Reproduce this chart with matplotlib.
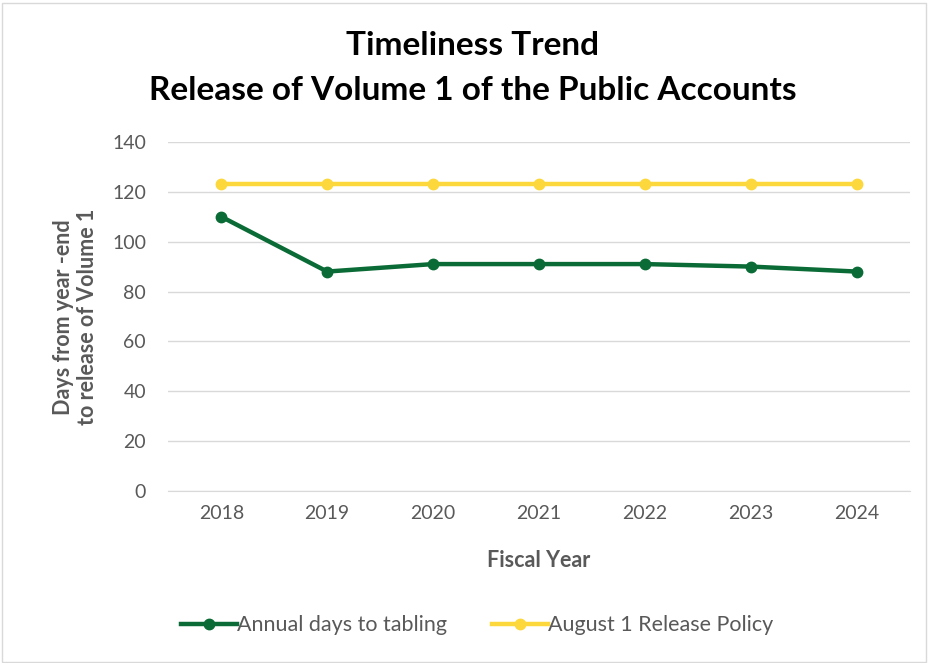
import matplotlib
matplotlib.use("Agg")
import matplotlib.pyplot as plt
from matplotlib.patches import Rectangle

years = ["2018", "2019", "2020", "2021", "2022", "2023", "2024"]
annual_days = [110, 88, 91, 91, 91, 90, 88]
policy_days = [123, 123, 123, 123, 123, 123, 123]
yticks = [0, 20, 40, 60, 80, 100, 120, 140]

plt.rcParams['font.family'] = ['Lato', 'DejaVu Sans']

fig = plt.figure(figsize=(9.3, 6.63), dpi=100)
ax = fig.add_axes([0.181, 0.2594, 0.797, 0.5266])

x = list(range(len(years)))
green = "#0b6b36"
yellow = "#fcd83c"
gray = "#595959"

ax.plot(x, annual_days, color=green, lw=3.2, marker='o', ms=7.5, label="Annual days to tabling", zorder=3)
ax.plot(x, policy_days, color=yellow, lw=3.2, marker='o', ms=7.5, label="August 1 Release Policy", zorder=3)

ax.set_xlim(-0.5, len(years) - 0.5)
ax.set_ylim(0, 140)
ax.set_yticks(yticks)
ax.set_xticks(x)
ax.set_xticklabels(years)
ax.grid(axis='y', color="#d9d9d9", lw=1)
ax.set_axisbelow(True)
for s in ['top', 'right', 'left']:
    ax.spines[s].set_visible(False)
ax.spines['bottom'].set_color("#d9d9d9")
ax.tick_params(axis='both', length=0, colors=gray, labelsize=14, pad=10)
ax.tick_params(axis='y', pad=16)

ax.set_xlabel("Fiscal Year", fontsize=15.5, fontweight='bold', color=gray, labelpad=20)
fig.text(0.081, 0.522, "Days from year -end\nto release of Volume 1", rotation=90,
         ha='center', va='center', fontsize=15.5, fontweight='bold', color=gray, linespacing=1.15)

fig.text(0.508, 0.932, "Timeliness Trend", ha='center', va='center', fontsize=24, fontweight='bold', color='black')
fig.text(0.508, 0.864, "Release of Volume 1 of the Public Accounts", ha='center', va='center',
         fontsize=24, fontweight='bold', color='black')

leg = fig.legend(loc='center', bbox_to_anchor=(0.513, 0.057), ncol=2, frameon=False,
                 fontsize=15.5, handlelength=2.6, handletextpad=0.0, columnspacing=2.1)
for t in leg.get_texts():
    t.set_color(gray)

fig.patches.append(Rectangle((0.002, 0.002), 0.994, 0.994, transform=fig.transFigure,
                             fill=False, edgecolor="#d9d9d9", lw=1))

fig.savefig("out.png", dpi=100)
